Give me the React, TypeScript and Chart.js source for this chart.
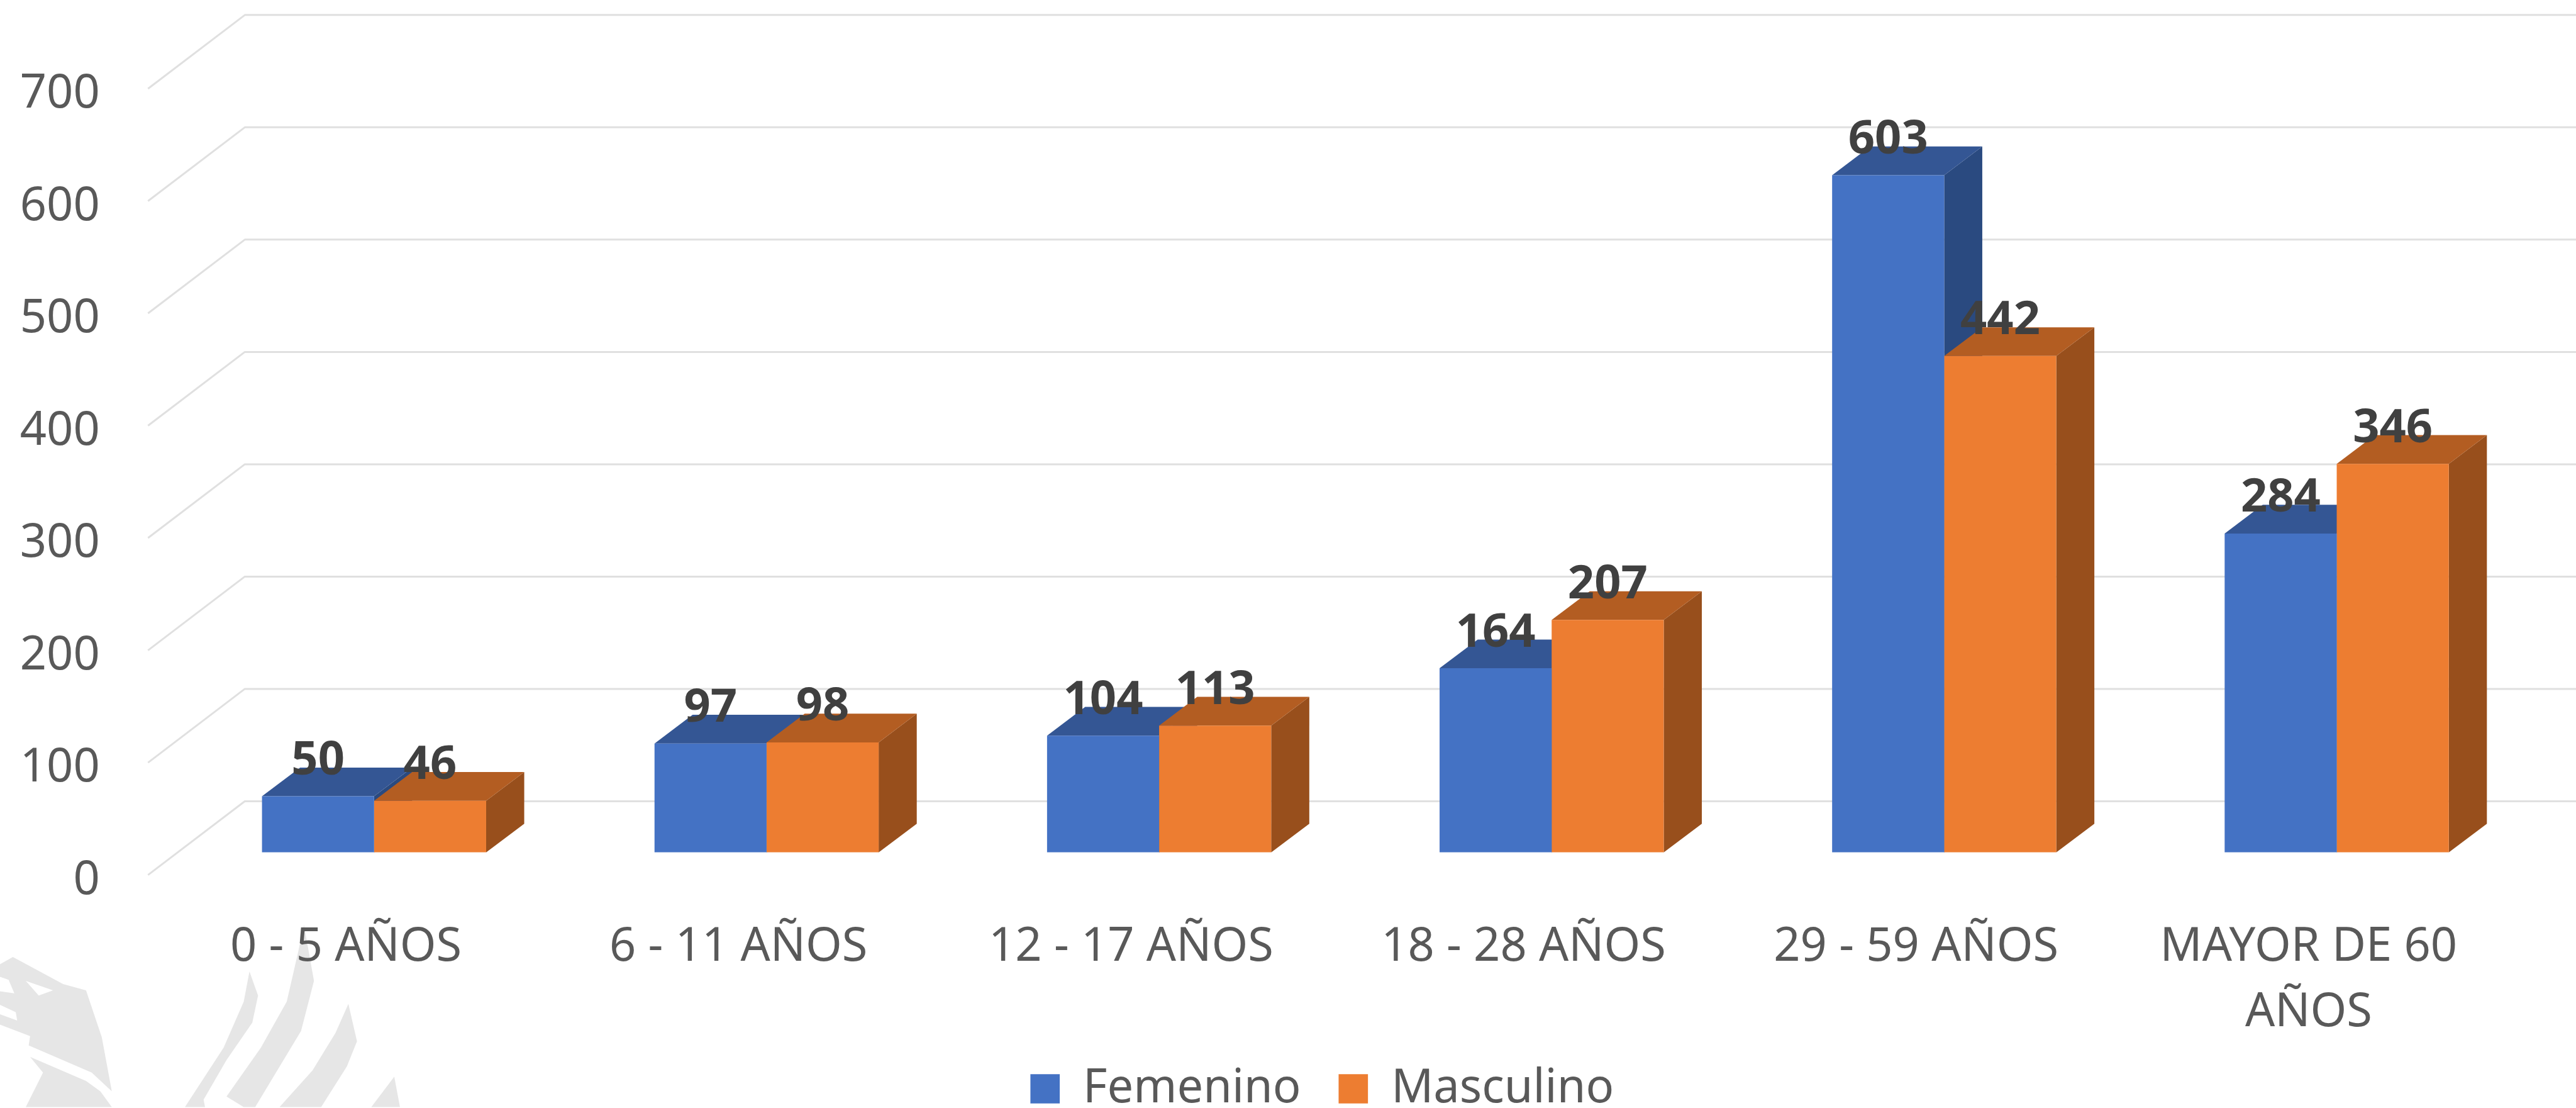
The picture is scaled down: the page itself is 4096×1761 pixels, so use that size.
import React, { useEffect, useRef } from "react";
import { Chart, registerables } from "chart.js";

Chart.register(...registerables);

const categories: (string | string[])[] = ["0 - 5 AÑOS", "6 - 11 AÑOS", "12 - 17 AÑOS", "18 - 28 AÑOS", "29 - 59 AÑOS", ["MAYOR DE 60", "AÑOS"]];
const femenino = [50, 97, 104, 164, 603, 284];
const masculino = [46, 98, 113, 207, 442, 346];
const yTicks = [0, 100, 200, 300, 400, 500, 600, 700];

const S = 0.993;
const FONT = "'Noto Sans'";
const FRONT = ["#4472C4", "#ED7D31"];
const TOP = ["#345694", "#B35D22"];
const SIDE = ["#2A4A80", "#984F1C"];
const GRID = "#E0E0E0";
const TEXT = "#595959";
const LABEL = "#404040";

// decorative watermark outlines, in pixels of the reference
const wm = (pts: number[][]) => pts.map(([x, y]) => [x / 2.178, 1480 + y / 3]);
const WM_FILL = [
  [[0, 190], [45, 155], [220, 285], [300, 315], [355, 540], [390, 800], [320, 710], [100, 580], [105, 535], [0, 480]],
  [[105, 635], [300, 750], [350, 800], [390, 876], [90, 876], [150, 710]],
  [[870, 225], [900, 340], [880, 470], [790, 650], [710, 840], [715, 876], [645, 876], [780, 590], [850, 370]],
  [[1060, 0], [1095, 270], [1050, 510], [890, 876], [850, 876], [790, 825], [910, 590], [1000, 370], [1040, 130]],
  [[1215, 380], [1245, 560], [1210, 680], [1120, 876], [975, 876], [1090, 700], [1170, 520]],
  [[1375, 730], [1395, 876], [1295, 876]],
].map(wm);
const WM_HOLE = [
  [[90, 270], [185, 315], [135, 340]],
  [[0, 250], [30, 265], [50, 330], [0, 320]],
  [[0, 385], [55, 420], [60, 460], [0, 430]],
].map(wm);

const poly = (ctx: CanvasRenderingContext2D, pts: number[][], fill: string) => {
  ctx.fillStyle = fill;
  ctx.beginPath();
  pts.forEach(([x, y], i) => (i ? ctx.lineTo(x * S, y * S) : ctx.moveTo(x * S, y * S)));
  ctx.closePath();
  ctx.fill();
};

const scene = {
  id: "scene",
  beforeLayout(chart: any) {
    // the legend sits below the axis labels, so it takes no room from the layout
    const lg = chart.legend;
    if (!lg._slim) {
      const fit = lg.fit;
      lg.fit = function () {
        fit.call(this);
        this.height = 1;
      };
      lg._slim = true;
    }
  },
  afterLayout(chart: any) {
    const lg = chart.legend;
    const pad = lg.options.labels.padding;
    const dx = 1656 * S - 6 - lg.left - pad;
    lg.left += dx;
    lg.right += dx;
    lg.top = 1719 * S - pad - 13.5;
    lg.bottom = chart.height;
  },
  beforeDraw(chart: any) {
    const { ctx } = chart;
    ctx.save();
    ctx.fillStyle = "#FFFFFF";
    ctx.fillRect(0, 0, chart.width, chart.height);
    WM_FILL.forEach((p) => poly(ctx, p, "#E6E6E6"));
    WM_HOLE.forEach((p) => poly(ctx, p, "#FFFFFF"));
    ctx.restore();
  },
  beforeDatasetsDraw(chart: any) {
    const { ctx, scales } = chart;
    ctx.save();
    // gridlines on the floor/back wall
    ctx.strokeStyle = GRID;
    ctx.lineWidth = 3;
    ctx.lineJoin = "round";
    yTicks.forEach((v) => {
      const y = scales.y.getPixelForValue(v);
      ctx.beginPath();
      ctx.moveTo(237 * S, y + 36 * S);
      ctx.lineTo(392 * S, y - 82 * S);
      ctx.lineTo(chart.width, y - 82 * S);
      ctx.stroke();
    });
    // depth faces of each bar
    const dx = 61 * S;
    const dy = 46 * S;
    [0, 1].forEach((d) => {
      chart.getDatasetMeta(d).data.forEach((bar: any) => {
        const l = bar.x - bar.width / 2;
        const r = bar.x + bar.width / 2;
        poly(ctx, [[r / S, bar.y / S], [(r + dx) / S, (bar.y - dy) / S], [(r + dx) / S, (bar.base - dy) / S], [r / S, bar.base / S]], SIDE[d]);
        poly(ctx, [[l / S, bar.y / S], [(l + dx) / S, (bar.y - dy) / S], [(r + dx) / S, (bar.y - dy) / S], [r / S, bar.y / S]], TOP[d]);
      });
    });
    ctx.restore();
  },
  afterDatasetsDraw(chart: any) {
    const { ctx } = chart;
    ctx.save();
    ctx.font = `bold ${74}px ${FONT}`;
    ctx.fillStyle = LABEL;
    ctx.textAlign = "center";
    ctx.textBaseline = "middle";
    [0, 1].forEach((d) => {
      chart.getDatasetMeta(d).data.forEach((bar: any, i: number) => {
        ctx.fillText(String(chart.data.datasets[d].data[i]), bar.x, bar.y - 56 * S);
      });
    });
    ctx.restore();
  },
};

export default function App() {
  const ref = useRef<HTMLCanvasElement>(null);
  useEffect(() => {
    document.body.style.margin = "0";
    const chart = new Chart(ref.current as HTMLCanvasElement, {
      type: "bar",
      data: {
        labels: categories as any,
        datasets: [
          { label: "Femenino", data: femenino, backgroundColor: FRONT[0], categoryPercentage: 0.571, barPercentage: 1 },
          { label: "Masculino", data: masculino, backgroundColor: FRONT[1], categoryPercentage: 0.571, barPercentage: 1 },
        ],
      },
      options: {
        animation: false,
        responsive: false,
        devicePixelRatio: 1,
        layout: { padding: { top: 106 * S, right: 4096 - 4056 * S, left: 0, bottom: 0 } },
        plugins: {
          tooltip: { enabled: false },
          legend: {
            position: "bottom",
            align: "start",
            labels: {
              boxWidth: 47 * S,
              boxHeight: 47 * S,
              padding: 60,
              color: TEXT,
              font: { family: FONT, size: 74 },
            },
          },
        },
        scales: {
          x: {
            grid: { display: false },
            border: { display: false },
            ticks: {
              autoSkip: false,
              maxRotation: 0,
              minRotation: 0,
              padding: 91,
              labelOffset: -45 * S,
              color: TEXT,
              font: { family: FONT, size: 74, lineHeight: 1.41 },
            },
            afterFit: (s: any) => {
              s.height = (1772 - 1363) * S - 1;
            },
          },
          y: {
            min: 0,
            max: 700,
            grid: { display: false, drawTicks: true, tickLength: 120 },
            border: { display: false },
            afterBuildTicks: (s: any) => {
              s.ticks = yTicks.map((value) => ({ value }));
            },
            ticks: {
              padding: 4,
              labelOffset: 36 * S + 9,
              color: TEXT,
              font: { family: FONT, size: 74 },
            },
            afterFit: (s: any) => {
              s.width = 284.7 * S;
            },
          },
        },
      } as any,
      plugins: [scene],
    });
    return () => chart.destroy();
  }, []);
  return <canvas ref={ref} width={4096} height={1761} style={{ display: "block" }} />;
}
